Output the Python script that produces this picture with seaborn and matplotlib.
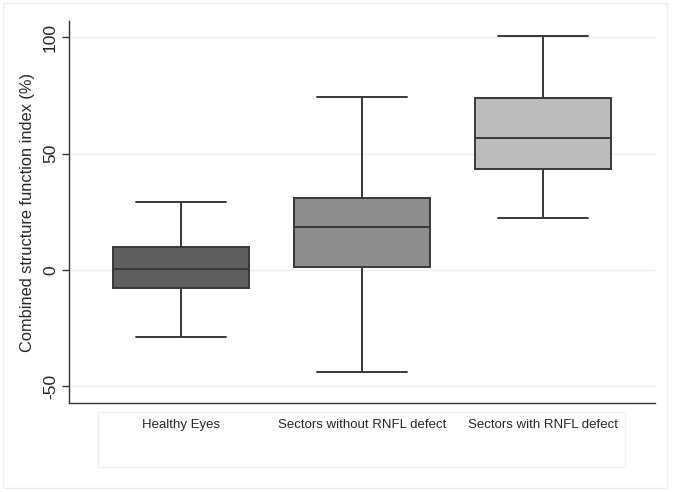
import pandas as pd
import matplotlib.pyplot as plt
import matplotlib.patches as patches
import seaborn as sns

# Five-number summaries (min, q1, median, q3, max)
groups = ['Healthy Eyes', 'Sectors without RNFL defect', 'Sectors with RNFL defect']
healthy = [-28.7, -7.6, 0.4, 10.0, 29.2]
without_defect = [-43.7, 1.1, 18.3, 30.8, 74.5]
with_defect = [22.2, 43.4, 56.9, 73.8, 100.6]
box_colors = ['#5f5f5f', '#8e8e8e', '#bcbcbc']
yticks = [-50, 0, 50, 100]

df = pd.DataFrame({
    'group': [groups[0]] * 5 + [groups[1]] * 5 + [groups[2]] * 5,
    'value': healthy + without_defect + with_defect,
})

sns.set_style('white')
plt.rcParams['font.family'] = ['Liberation Sans', 'DejaVu Sans']

fig = plt.figure(figsize=(6.75, 4.92), dpi=100)
ax = fig.add_axes([69 / 675, 1 - 403.3 / 492, (655 - 69) / 675, (403.3 - 20.7) / 492])

sns.boxplot(data=df, x='group', y='value', hue='group', palette=box_colors,
            order=groups, whis=(0, 100), width=0.754, showfliers=False,
            linecolor='#383838', linewidth=1.4, saturation=1, legend=False,
            capwidths=0.5, ax=ax)

ax.set_xlim(-0.62, 2.62)
ax.set_ylim(-57.3, 107.1)
ax.set_yticks(yticks)
ax.set_yticklabels([str(t) for t in yticks], rotation=90, va='center', fontsize=12.5)
for t in yticks:
    ax.axhline(t, color='#eaf0f0', linewidth=1.0, zorder=0)
ax.set_axisbelow(True)

ax.set_xlabel('')
ax.set_ylabel('Combined structure function index (%)', fontsize=11.8, labelpad=6)
ax.tick_params(axis='x', length=0, pad=11, labelsize=9.5)
ax.tick_params(axis='y', length=5, width=1, color='#333333', direction='out', left=True, pad=3)
for side in ['top', 'right']:
    ax.spines[side].set_visible(False)
for side in ['left', 'bottom']:
    ax.spines[side].set_color('#333333')
    ax.spines[side].set_linewidth(1.0)

# legend-like key box under the plot and outer frame
fig.patches.append(patches.Rectangle((98 / 675, 1 - 467.3 / 492), (625 - 98) / 675, (467.3 - 412.3) / 492,
                                     transform=fig.transFigure, fill=False,
                                     edgecolor='#eef2f2', linewidth=1.0))
fig.patches.append(patches.Rectangle((3 / 675, 1 - 488 / 492), (667 - 3) / 675, (488 - 3) / 492,
                                     transform=fig.transFigure, fill=False,
                                     edgecolor='#e8eeee', linewidth=1.0))

plt.savefig('out.png', dpi=100)
